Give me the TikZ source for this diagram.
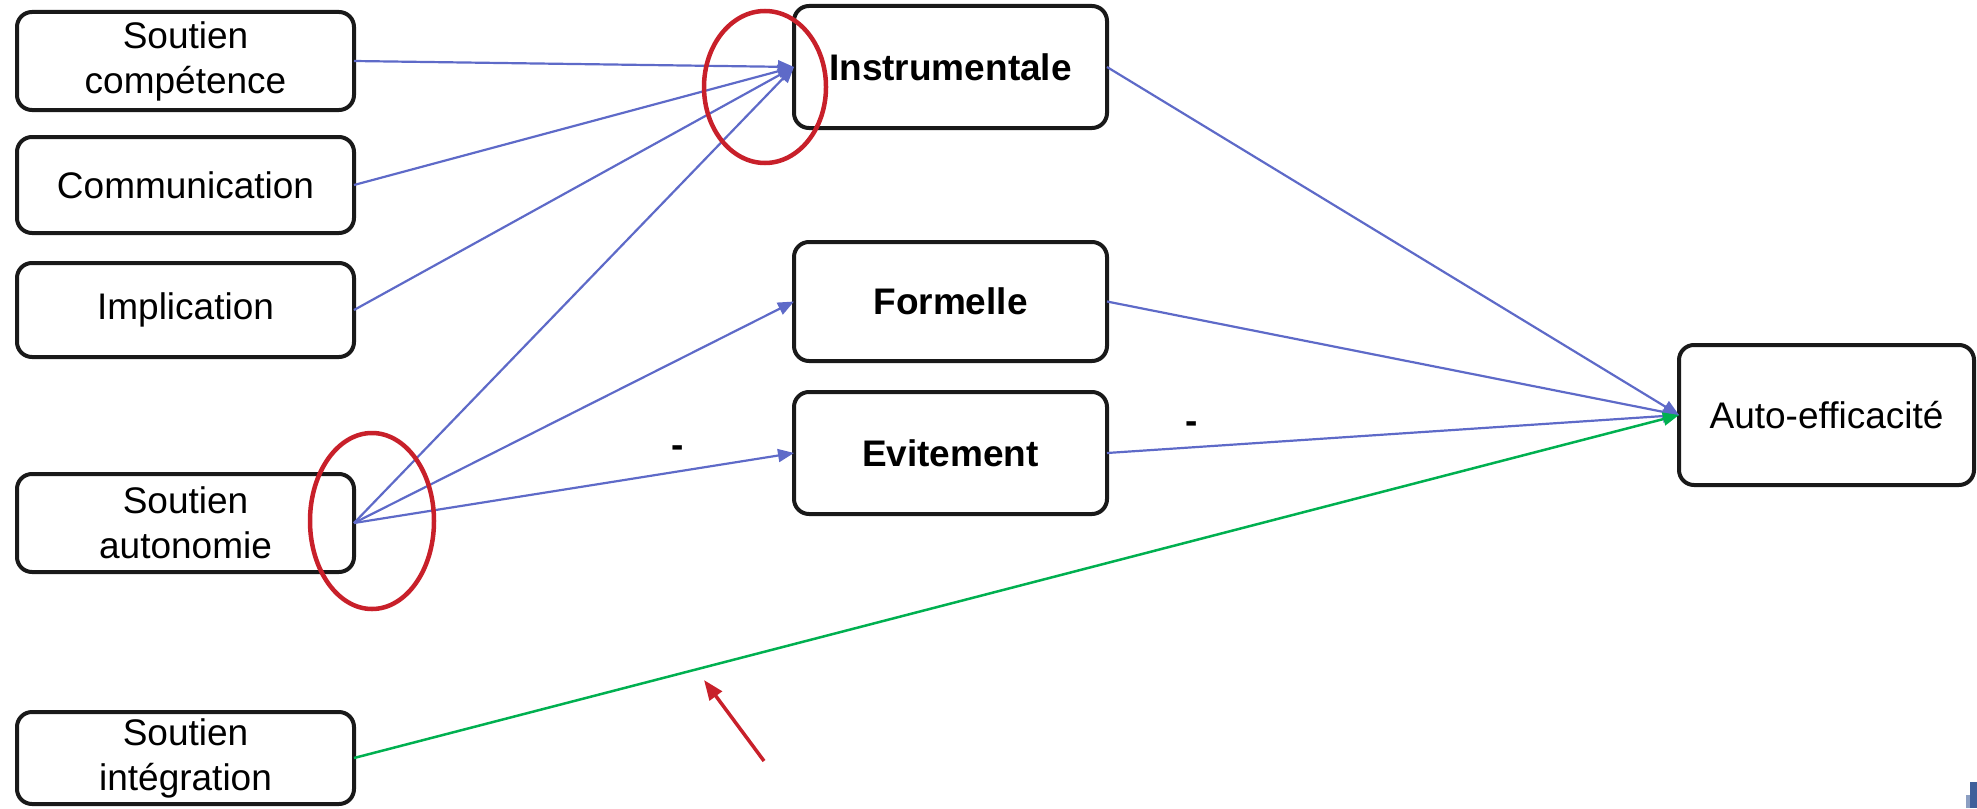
\documentclass[tikz,border=0pt]{standalone}
\usepackage{fontspec}
\setmainfont{Liberation Sans}
\usetikzlibrary{arrows.meta}
\definecolor{pathblue}{RGB}{94,106,200}
\definecolor{pathgreen}{RGB}{0,176,80}
\definecolor{markred}{RGB}{200,32,42}
\definecolor{logoblue}{RGB}{63,95,154}
\tikzset{
  box/.style={draw=black!90, line width=4pt, rounded corners=15pt, inner sep=0pt, outer sep=0pt,
    align=center, font=\fontsize{37}{45}\selectfont, fill=white},
  bbox/.style={box, font=\fontsize{37}{45}\selectfont\bfseries},
  link/.style={draw=pathblue, line width=2.2pt, -{Triangle[length=16pt,width=13pt]}},
  glink/.style={draw=pathgreen, line width=2.5pt, -{Triangle[length=16pt,width=13pt]}},
  redring/.style={draw=markred, line width=4.5pt},
  sign/.style={font=\fontsize{37}{45}\selectfont\bfseries, inner sep=0pt}
}
\begin{document}
\begin{tikzpicture}[x=1pt,y=-1pt]
\useasboundingbox (0,0) rectangle (1977,808);
% left boxes
\node[box, minimum width=337pt, minimum height=98pt] (comp) at (185.5,61) {Soutien\\compétence};
\node[box, minimum width=337pt, minimum height=96pt] (comm) at (185.5,185) {Communication};
\node[box, minimum width=337pt, minimum height=94pt] (impl) at (185.5,310) {Implication};
\node[box, minimum width=337pt, minimum height=98pt] (auton) at (185.5,523) {Soutien\\autonomie};
\node[box, minimum width=337pt, minimum height=92pt] (integ) at (185.5,758) {Soutien\\intégration};
% middle boxes
\node[bbox, minimum width=313pt, minimum height=122pt] (instr) at (950.5,67) {Instrumentale};
\node[bbox, minimum width=313pt, minimum height=119pt] (form) at (950.5,301.5) {Formelle};
\node[bbox, minimum width=313pt, minimum height=122pt] (evit) at (950.5,453) {Evitement};
% right box
\node[box, minimum width=295pt, minimum height=140pt] (eff) at (1826.5,415) {Auto-efficacité};
% connectors
\draw[link] (comp.east) -- (instr.west);
\draw[link] (comm.east) -- (instr.west);
\draw[link] (impl.east) -- (instr.west);
\draw[link] (auton.east) -- (instr.west);
\draw[link] (auton.east) -- (form.west);
\draw[link] (auton.east) -- (evit.west);
\draw[link] (instr.east) -- (eff.west);
\draw[link] (form.east) -- (eff.west);
\draw[link] (evit.east) -- (eff.west);
\draw[glink] (integ.east) -- (eff.west);
% signs
\node[sign] (m1) at (678,452) {-};
\node[sign] (m2) at (1192,428) {-};
% red highlight ellipses
\draw[redring] (765,87) ellipse [x radius=61, y radius=76];
\draw[redring] (372,521) ellipse [x radius=62, y radius=88];
% red pointer arrow
\coordinate (pstart) at (764,761);
\coordinate (pend) at (704,680);
\draw[draw=markred, line width=3.5pt, -{Triangle[length=20pt,width=15pt]}] (pstart) -- (pend);
% small logo fragment
\fill[logoblue!60] (1966,795) rectangle (1977,808);
\fill[logoblue] (1970,782) rectangle (1977,808);
\end{tikzpicture}
\end{document}
